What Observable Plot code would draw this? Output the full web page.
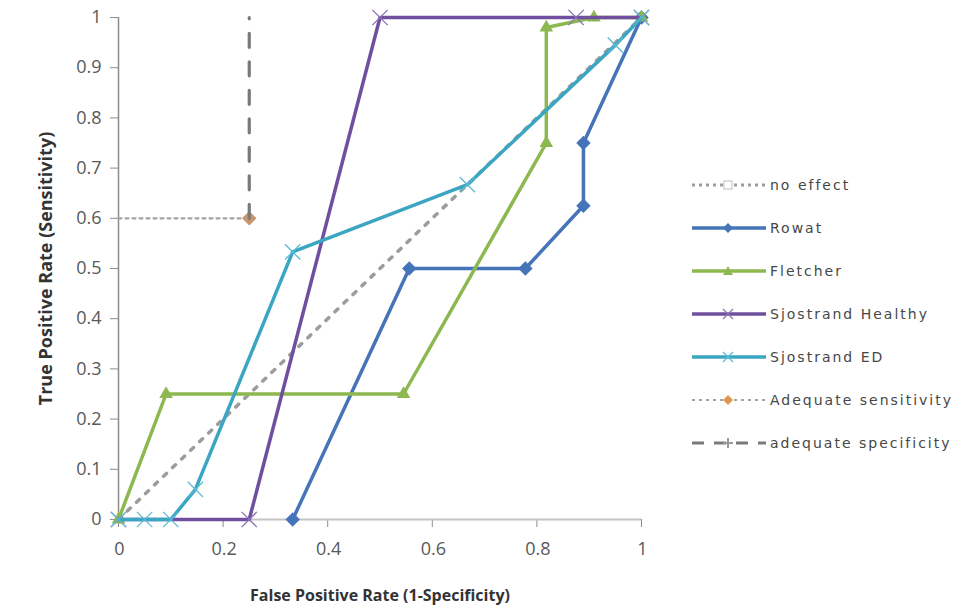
<!DOCTYPE html>
<html><head><meta charset="utf-8">
<script src="https://cdn.jsdelivr.net/npm/d3@7"></script>
<script src="https://cdn.jsdelivr.net/npm/@observablehq/plot@0.6"></script>
<style>
body{margin:0;background:#fff;}
#wrap{position:relative;width:979px;height:614px;overflow:hidden;}
#legend{position:absolute;left:690px;top:163px;font-family:"DejaVu Sans",sans-serif;font-size:14px;letter-spacing:2px;color:#474747;}
.item{display:flex;align-items:center;height:43px;white-space:nowrap;}
.item svg{margin-right:2px;}
g[aria-label="y-tick-labels"] text, g[aria-label="x-tick-labels"] text{letter-spacing:2.5px;}
</style></head><body>
<div id="wrap"><div id="chart"></div><div id="legend"></div></div>
<script>
// ---- data ----
const seriesNames = ["no effect","Rowat","Fletcher","Sjostrand Healthy","Sjostrand ED","Adequate sensitivity","adequate specificity"];
const noEffectX = [0, 1];
const noEffectY = [0, 1];
const rowatX = [0.333, 0.556, 0.778, 0.889, 0.889, 1];
const rowatY = [0, 0.5, 0.5, 0.625, 0.75, 1];
const fletcherX = [0, 0.091, 0.545, 0.818, 0.818, 0.909, 1];
const fletcherY = [0, 0.25, 0.25, 0.75, 0.98, 1, 1];
const healthyX = [0, 0.25, 0.5, 0.875, 1];
const healthyY = [0, 0, 1, 1, 1];
const edX = [0, 0.05, 0.1, 0.147, 0.333, 0.667, 0.95, 1];
const edY = [0, 0, 0, 0.06, 0.533, 0.667, 0.945, 1];
const sensX = [0, 0.25];
const sensY = [0.6, 0.6];
const specX = [0.25, 0.25];
const specY = [0.6, 1];
const xTicks = [0, 0.2, 0.4, 0.6, 0.8, 1];
const xTickLabels = ["0","0.2","0.4","0.6","0.8","1"];
const yTicks = [0, 0.1, 0.2, 0.3, 0.4, 0.5, 0.6, 0.7, 0.8, 0.9, 1];
const yTickLabels = ["0","0.1","0.2","0.3","0.4","0.5","0.6","0.7","0.8","0.9","1"];
const xTitle = "False Positive Rate (1-Specificity)";
const yTitle = "True Positive Rate (Sensitivity)";

// ---- styles ----
const C = {
  none: "#9c9c9c", rowat: "#4674b9", fletcher: "#8db84f",
  healthy: "#6f4f9e", ed: "#3ba6c2", sens: "#c8966b", spec: "#7a7a7a"
};
const rows = (xs, ys) => xs.map((x, i) => ({x, y: ys[i]}));
const yLab = yTicks.map((v, i) => ({v, t: yTickLabels[i]}));
const xLab = xTicks.map((v, i) => ({v, t: xTickLabels[i]}));

const chart = Plot.plot({
  width: 979, height: 614,
  marginLeft: 118, marginRight: 338, marginTop: 17, marginBottom: 95,
  x: {domain: [0, 1]},
  y: {domain: [0, 1]},
  style: {fontFamily: "'Open Sans', sans-serif", color: "#595959", background: "#fff", overflow: "visible"},
  marks: [
    Plot.axisY(yTicks, {tickSize: 8, stroke: "#8c8c8c", tickFormat: () => "", label: null}),
    Plot.axisX(xTicks, {tickSize: 8, stroke: "#8c8c8c", tickFormat: () => "", label: null}),
    Plot.text(yLab, {x: 0, y: "v", text: "t", dx: -17, textAnchor: "end", fontSize: 18, fill: "#595959", ariaLabel: "y-tick-labels"}),
    Plot.text(xLab, {x: "v", y: 0, text: "t", dy: 30, dx: 1, textAnchor: "middle", fontSize: 18, fill: "#595959", ariaLabel: "x-tick-labels"}),
    Plot.ruleY([0], {stroke: "#c4c4c4", strokeWidth: 2}),
    Plot.ruleX([0], {stroke: "#8c8c8c", strokeWidth: 1.5}),
    Plot.text([yTitle], {frameAnchor: "left", dx: -72, rotate: -90, textAnchor: "middle", text: d => d, fontWeight: "bold", fontSize: 18, fill: "#333"}),
    Plot.text([xTitle], {frameAnchor: "bottom", dy: 81, textAnchor: "middle", text: d => d, fontWeight: "bold", fontSize: 16, fill: "#333"}),
    // no effect
    Plot.line(rows(noEffectX, noEffectY), {x: "x", y: "y", stroke: C.none, strokeWidth: 3.5, strokeDasharray: "4,8.5"}),
    // Rowat
    Plot.line(rows(rowatX, rowatY), {x: "x", y: "y", stroke: C.rowat, strokeWidth: 3.5}),
    Plot.dot(rows(rowatX, rowatY), {x: "x", y: "y", symbol: "diamond2", r: 6.5, fill: C.rowat}),
    // Fletcher
    Plot.line(rows(fletcherX, fletcherY), {x: "x", y: "y", stroke: C.fletcher, strokeWidth: 3.5}),
    Plot.dot(rows(fletcherX, fletcherY), {x: "x", y: "y", symbol: "triangle2", r: 6.5, fill: C.fletcher}),
    // Sjostrand Healthy
    Plot.line(rows(healthyX, healthyY), {x: "x", y: "y", stroke: C.healthy, strokeWidth: 3.5}),
    Plot.dot(rows(healthyX, healthyY), {x: "x", y: "y", symbol: "times", r: 7, stroke: "#8a73b3", strokeWidth: 1.3}),
    // Sjostrand ED
    Plot.line(rows(edX, edY), {x: "x", y: "y", stroke: C.ed, strokeWidth: 3.5}),
    Plot.dot(rows(edX, edY), {x: "x", y: "y", symbol: "times", r: 7, stroke: "#5bbad3", strokeWidth: 1.3}),
    // Adequate sensitivity
    Plot.line(rows(sensX, sensY), {x: "x", y: "y", stroke: "#a8a29c", strokeWidth: 2.2, strokeDasharray: "3,4"}),
    Plot.dot(rows(sensX, sensY).slice(1), {x: "x", y: "y", symbol: "diamond2", r: 6.5, fill: C.sens}),
    // adequate specificity
    Plot.line(rows(specX, specY), {x: "x", y: "y", stroke: C.spec, strokeWidth: 3.2, strokeDasharray: "14,14.5"})
  ]
});
document.getElementById("chart").appendChild(chart);

// ---- legend ----
const sym = {
  square: '<rect x="34" y="6" width="8" height="8" fill="#fff" stroke="#c8c8c8" stroke-width="1.2"/>',
  diamond: c => `<path d="M38,5 L43,10 L38,15 L33,10Z" fill="${c}"/>`,
  tri: c => `<path d="M38,5 L43,14 L33,14Z" fill="${c}"/>`,
  times: c => `<path d="M33,5 L43,15 M43,5 L33,15" stroke="${c}" stroke-width="1.2"/>`,
  plus: c => `<path d="M38,5 L38,15 M33,10 L43,10" stroke="${c}" stroke-width="2"/>`
};
const legendDefs = [
  {stroke: C.none, dash: "3,4", w: 3, m: sym.square},
  {stroke: C.rowat, dash: null, w: 3.5, m: sym.diamond(C.rowat)},
  {stroke: C.fletcher, dash: null, w: 3.5, m: sym.tri(C.fletcher)},
  {stroke: C.healthy, dash: null, w: 3.5, m: sym.times("#8a73b3")},
  {stroke: C.ed, dash: null, w: 3.5, m: sym.times("#5bbad3")},
  {stroke: "#a8a29c", dash: "3,4", w: 2, m: sym.diamond("#e0954f")},
  {stroke: C.spec, dash: "12,10", w: 3, m: sym.plus("#999")}
];
const leg = document.getElementById("legend");
seriesNames.forEach((name, i) => {
  const d = legendDefs[i];
  const div = document.createElement("div");
  div.className = "item";
  div.innerHTML = `<svg width="78" height="20"><line x1="2" y1="10" x2="76" y2="10" stroke="${d.stroke}" stroke-width="${d.w}" ${d.dash ? `stroke-dasharray="${d.dash}"` : ""}/>${d.m}</svg><span>${name}</span>`;
  leg.appendChild(div);
});
</script>
</body></html>
